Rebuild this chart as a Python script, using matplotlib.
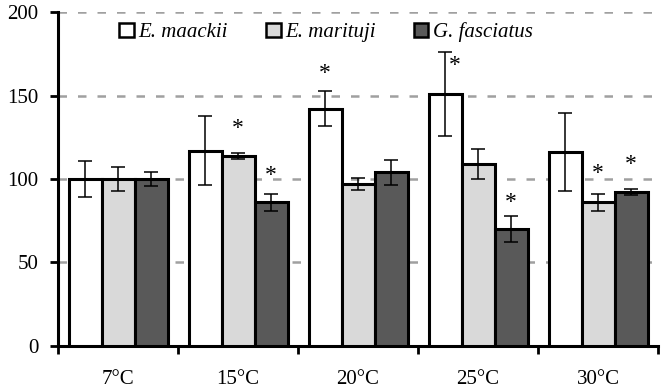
import numpy as np
import matplotlib.pyplot as plt
from matplotlib.patches import Patch

plt.rcParams['font.family'] = ['Liberation Serif', 'DejaVu Serif']

# данные
temps = ["7°C", "15°C", "20°C", "25°C", "30°C"]
species = ["E. maackii", "E. marituji", "G. fasciatus"]
maackii = [100, 117, 142, 151, 116]
marituji = [100, 114, 97, 109, 86]
fasciatus = [100, 86, 104, 70, 92]
maackii_err = [11, 20.5, 10.5, 25, 23.3]
marituji_err = [7, 1.8, 3.5, 8.7, 5]
fasciatus_err = [4, 5.3, 7.5, 8, 1.8]

# звездочки: (группа, серия, высота)
stars = [(1, 1, 130.5), (1, 2, 102), (2, 0, 163), (3, 0, 168),
         (3, 2, 86), (4, 1, 103.5), (4, 2, 108.5)]
star_dx = {(3, 0): 0.08}

values = [maackii, marituji, fasciatus]
errors = [maackii_err, marituji_err, fasciatus_err]
colors = ["white", "#d9d9d9", "#595959"]

fig = plt.figure(figsize=(6.63, 3.9), dpi=100)
ax = fig.add_axes([0.0875, 0.113, 0.905, 0.856])

x = np.arange(len(temps)) + 0.5
w = 0.275
for i in range(3):
    ax.bar(x + (i - 1) * w, values[i], w, color=colors[i], edgecolor="black",
           linewidth=2.2, zorder=3, label=species[i])
    ax.errorbar(x + (i - 1) * w, values[i], yerr=errors[i], fmt="none",
                ecolor="black", elinewidth=1.1, capsize=4.7, capthick=1.1, zorder=4)

for g, s, h in stars:
    ax.text(x[g] + (s - 1) * w + star_dx.get((g, s), 0), h, "*", ha="center",
            va="center", fontsize=17, zorder=5)

ax.set_xlim(0, 5)
ax.set_ylim(0, 200)
ax.set_yticks([0, 50, 100, 150, 200])
ax.set_xticks(np.arange(0, 6), minor=False)
ax.set_xticklabels([])
ax.set_xticks(x, minor=True)
ax.set_xticklabels(temps, minor=True)
ax.tick_params(axis="x", which="minor", length=0, pad=17, labelsize=15)
ax.tick_params(axis="x", which="major", length=6, width=2, direction="out")
ax.tick_params(axis="y", length=6, width=2, direction="out", labelsize=15, pad=8)

ax.yaxis.grid(True, color="#a0a0a0", linestyle=(0, (3.4, 4.4)), linewidth=1.8, zorder=0)
ax.set_axisbelow(True)
for sp in ["top", "right"]:
    ax.spines[sp].set_visible(False)
for sp in ["left", "bottom"]:
    ax.spines[sp].set_linewidth(2.2)

handles = [Patch(facecolor=c, edgecolor="black", linewidth=1.8) for c in colors]
ax.legend(handles, species, loc="upper left", bbox_to_anchor=(0.085, 1.0), ncol=3,
          frameon=False, prop={"style": "italic", "size": 15},
          handlelength=0.7, handleheight=0.7, handletextpad=0.2, columnspacing=1.85,
          borderaxespad=0.1)

fig.savefig("out.png", dpi=100)
